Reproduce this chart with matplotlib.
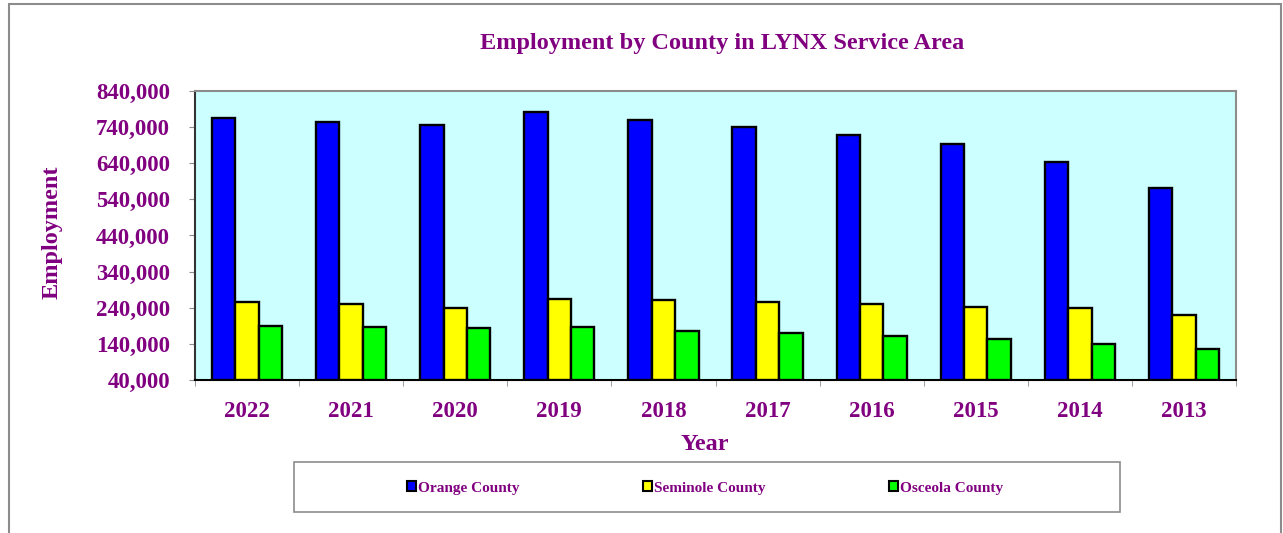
import numpy as np
from matplotlib import pyplot as plt
from matplotlib.patches import Rectangle

years = ['2022', '2021', '2020', '2019', '2018', '2017', '2016', '2015', '2014', '2013']
orange = [764000, 753000, 747000, 783000, 761000, 740000, 718000, 693000, 643000, 572000]
seminole = [255000, 250000, 239000, 265000, 261000, 256000, 250000, 242000, 240000, 220000]
osceola = [189000, 186000, 185000, 186000, 177000, 169000, 161000, 153000, 141000, 125000]
y_ticks = [40000, 140000, 240000, 340000, 440000, 540000, 640000, 740000, 840000]

purple = '#800080'
font = 'Liberation Serif'
W, H = 1283, 533

fig = plt.figure(figsize=(W / 100, H / 100), dpi=100)
# outer frame of the chart
fig.patches.append(Rectangle((9 / W, -0.01), (1281 - 9) / W, 1 - 4 / H + 0.01,
                             transform=fig.transFigure, fill=False,
                             edgecolor='#8c8c8c', linewidth=1.5))

ax = fig.add_axes([195 / W, 1 - 380 / H, (1236 - 195) / W, 289 / H])
ax.set_facecolor('#ccffff')

index = np.arange(len(years))
bar_width = 0.225
series = [(orange, '#0000ff', 'Orange County'),
          (seminole, '#ffff00', 'Seminole County'),
          (osceola, '#00ff00', 'Osceola County')]
for i, (vals, col, lab) in enumerate(series):
    ax.bar(index + (i - 1) * bar_width, np.array(vals) - 40000, bar_width, bottom=40000,
           color=col, edgecolor='black', linewidth=1.7, label=lab, zorder=3)

ax.set_xlim(-0.5, len(years) - 0.5)
ax.set_ylim(40000, 840000)
ax.set_yticks(y_ticks)
ax.set_yticklabels(['{:,}'.format(v) for v in y_ticks])
ax.set_xticks(index)
ax.set_xticklabels(years)
ax.set_xticks(np.arange(len(years) + 1) - 0.5, minor=True)
ax.tick_params(axis='x', which='major', length=0, pad=15)
ax.tick_params(axis='x', which='minor', length=4, direction='out', color='#8c8c8c')
ax.tick_params(axis='y', length=4, direction='out', color='#8c8c8c', pad=14)
for lbl in ax.get_xticklabels() + ax.get_yticklabels():
    lbl.set_fontfamily(font)
    lbl.set_fontweight('bold')
    lbl.set_fontsize(16.5)
    lbl.set_color(purple)

ax.spines['top'].set_color('#8c8c8c')
ax.spines['right'].set_color('#8c8c8c')
ax.spines['left'].set_color('#333333')
ax.spines['bottom'].set_color('black')
for s in ax.spines.values():
    s.set_linewidth(1.5)

fig.text(722 / W, 1 - 44 / H, 'Employment by County in LYNX Service Area', ha='center', va='center',
         fontfamily=font, fontweight='bold', fontsize=17.5, color=purple)
fig.text(52 / W, 1 - 232 / H, 'Employment', ha='center', va='center', rotation=90,
         fontfamily=font, fontweight='bold', fontsize=17.5, color=purple)
fig.text(705 / W, 1 - 444 / H, 'Year', ha='center', va='center',
         fontfamily=font, fontweight='bold', fontsize=17.5, color=purple)

# legend box
fig.patches.append(Rectangle((294 / W, 1 - 512 / H), (1120 - 294) / W, 50 / H,
                             transform=fig.transFigure, fill=False,
                             edgecolor='#8c8c8c', linewidth=1.2))
leg = fig.legend(loc='center', bbox_to_anchor=(705 / W, 1 - 488 / H), ncol=3, frameon=False,
                 handlelength=0.6, handleheight=0.6, handletextpad=0.1, columnspacing=8.1,
                 prop={'family': font, 'weight': 'bold', 'size': 11})
for t in leg.get_texts():
    t.set_color(purple)
for h in leg.legend_handles:
    h.set_linewidth(1.5)

fig.savefig('out.png', dpi=100)
